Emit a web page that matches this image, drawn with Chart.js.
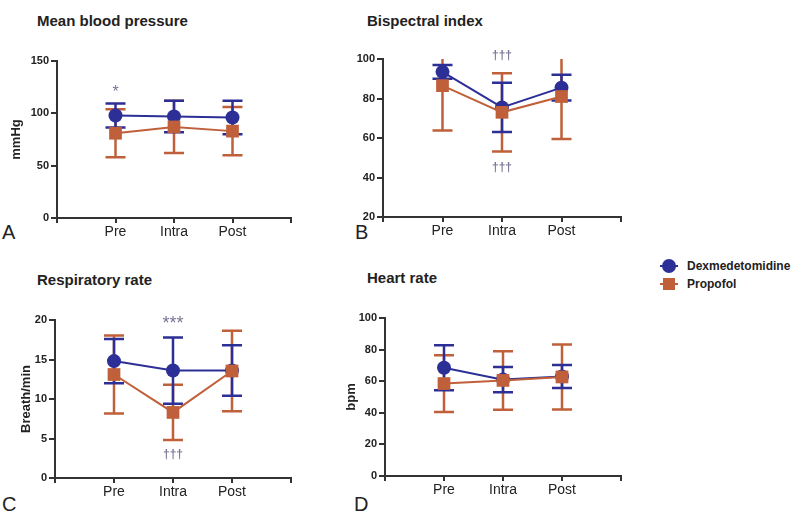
<!DOCTYPE html>
<html>
<head>
<meta charset="utf-8">
<script src="https://cdn.jsdelivr.net/npm/chart.js@4"></script>
<style>
  body { margin: 0; background: #fff; width: 800px; height: 512px; position: relative; overflow: hidden;
         font-family: "Liberation Sans", Arial, sans-serif; }
  canvas { position: absolute; }
  .ttl { position: absolute; font-weight: bold; font-size: 15px; line-height: 15px; color: #222; white-space: nowrap; }
  .let { position: absolute; font-size: 20px; line-height: 20px; color: #222; }
  .leg { position: absolute; font-weight: bold; font-size: 12px; line-height: 14px; color: #222; white-space: nowrap; }
  .sym { position: absolute; }
</style>
</head>
<body>
<div class="ttl" style="left:37px;top:13px">Mean blood pressure</div>
<div class="ttl" style="left:367px;top:13px">Bispectral index</div>
<div class="ttl" style="left:37px;top:272px">Respiratory rate</div>
<div class="ttl" style="left:367px;top:270px">Heart rate</div>
<div class="let" style="left:2px;top:222px">A</div>
<div class="let" style="left:355px;top:222px">B</div>
<div class="let" style="left:2px;top:494px">C</div>
<div class="let" style="left:354px;top:494px">D</div>

<div class="sym" style="left:660px;top:265px;width:18px;height:2px;background:#2c2f96"></div>
<div class="sym" style="left:662px;top:259px;width:14px;height:14px;border-radius:50%;background:#2c2f96"></div>
<div class="leg" style="left:687px;top:259px">Dexmedetomidine</div>
<div class="sym" style="left:660px;top:283px;width:18px;height:2px;background:#c0603a"></div>
<div class="sym" style="left:663px;top:278px;width:12px;height:12px;background:#c0603a"></div>
<div class="leg" style="left:687px;top:277px">Propofol</div>

<canvas id="cA" width="300" height="215" style="left:0px;top:40px"></canvas>
<canvas id="cB" width="310" height="215" style="left:320px;top:40px"></canvas>
<canvas id="cC" width="300" height="222" style="left:0px;top:290px"></canvas>
<canvas id="cD" width="310" height="222" style="left:320px;top:290px"></canvas>

<script>
const cats = ['Pre', 'Intra', 'Post'];

// mean blood pressure (mmHg), mean and SD
const mbpDex = [98, 97, 96];
const mbpDexSd = [11.5, 15, 16];
const mbpPro = [81, 87, 83];
const mbpProSd = [23, 25, 23];

// bispectral index
const bisDex = [93.5, 75.5, 85.5];
const bisDexSd = [3.5, 12.5, 6.5];
const bisPro = [86.5, 73, 81];
const bisProSd = [22.7, 19.8, 21.5];

// respiratory rate (breath/min)
const rrDex = [14.8, 13.6, 13.6];
const rrDexSd = [2.8, 4.2, 3.2];
const rrPro = [13.1, 8.3, 13.55];
const rrProSd = [4.95, 3.5, 5.1];

// heart rate (bpm)
const hrDex = [68.5, 61, 63];
const hrDexSd = [14.2, 8, 7.3];
const hrPro = [58.5, 60.5, 62.7];
const hrProSd = [18, 18.5, 20.6];

const blue = '#2c2f96';
const orange = '#c0603a';
const markColor = '#7b7394';
const axisColor = '#333';

// draws mean +/- SD whiskers, clipped at the axis range
const errorBars = {
  id: 'errorBars',
  beforeDatasetsDraw(chart) {
    const {ctx, scales: {x, y}} = chart;
    const ds = chart.data.datasets;
    for (let d = ds.length - 1; d >= 0; d--) {
      const set = ds[d];
      ctx.save();
      ctx.strokeStyle = set.borderColor;
      ctx.lineWidth = 2.5;
      set.data.forEach((p, i) => {
        const sd = set.errors[i];
        let hi = p.y + sd, lo = p.y - sd;
        const capHi = hi <= y.max, capLo = lo >= y.min;
        hi = Math.min(hi, y.max);
        lo = Math.max(lo, y.min);
        const px = x.getPixelForValue(p.x);
        const yh = y.getPixelForValue(hi), yl = y.getPixelForValue(lo);
        ctx.beginPath();
        ctx.moveTo(px, yh);
        ctx.lineTo(px, yl);
        if (capHi) { ctx.moveTo(px - 10, yh); ctx.lineTo(px + 10, yh); }
        if (capLo) { ctx.moveTo(px - 10, yl); ctx.lineTo(px + 10, yl); }
        ctx.stroke();
      });
      ctx.restore();
    }
  }
};

// significance marks (*, †††) placed in data coordinates
const marks = {
  id: 'marks',
  afterDatasetsDraw(chart, args, opts) {
    const {ctx, scales: {x, y}} = chart;
    (opts.items || []).forEach(m => {
      ctx.save();
      ctx.fillStyle = markColor;
      ctx.font = m.font;
      ctx.textAlign = 'center';
      ctx.textBaseline = 'middle';
      ctx.fillText(m.text, x.getPixelForValue(m.x), y.getPixelForValue(m.y));
      ctx.restore();
    });
  }
};

function toPts(arr) {
  return arr.map((v, i) => ({x: i + 1, y: v}));
}

function makePanel(cfg) {
  const box = cfg.box, area = cfg.area;
  new Chart(document.getElementById(cfg.id), {
    type: 'line',
    data: {
      datasets: [
        {
          label: 'Dexmedetomidine',
          data: toPts(cfg.dex),
          errors: cfg.dexSd,
          borderColor: blue,
          backgroundColor: blue,
          borderWidth: 2,
          pointStyle: 'circle',
          pointRadius: 7,
          pointBorderWidth: 0,
          order: 1
        },
        {
          label: 'Propofol',
          data: toPts(cfg.pro),
          errors: cfg.proSd,
          borderColor: orange,
          backgroundColor: orange,
          borderWidth: 2,
          pointStyle: 'rect',
          pointRadius: 9,
          pointBorderWidth: 0,
          order: 0
        }
      ]
    },
    options: {
      responsive: false,
      animation: false,
      layout: {
        padding: {left: 0, top: area.t - box.y, right: box.x + box.w - area.r, bottom: 0}
      },
      plugins: {
        legend: {display: false},
        tooltip: {enabled: false},
        marks: {items: cfg.marks}
      },
      scales: {
        x: {
          type: 'linear',
          min: 0,
          max: 4,
          afterFit: s => { s.height = box.y + box.h - area.b; },
          afterBuildTicks: s => { s.ticks = [0, 1, 2, 3, 4].map(v => ({value: v})); },
          grid: {display: true, drawOnChartArea: false, drawTicks: true, tickLength: 5, color: axisColor, lineWidth: 2},
          border: {display: true, color: axisColor, width: 2},
          ticks: {
            callback: v => cats[v - 1] || '',
            color: '#222',
            padding: 1,
            maxRotation: 0,
            font: {family: '"Liberation Sans", Arial, sans-serif', size: 14}
          }
        },
        y: {
          min: cfg.yMin,
          max: cfg.yMax,
          afterFit: s => { s.width = area.l - box.x; },
          grid: {display: true, drawOnChartArea: false, drawTicks: true, tickLength: 6, color: axisColor, lineWidth: 2},
          border: {display: true, color: axisColor, width: 2},
          ticks: {
            stepSize: cfg.yStep,
            color: '#222',
            padding: 2,
            font: {family: '"Liberation Sans", Arial, sans-serif', size: 11, weight: 'bold'}
          },
          title: {
            display: !!cfg.yTitle,
            text: cfg.yTitle,
            color: '#222',
            padding: {top: cfg.titlePad, bottom: 0},
            font: {family: '"Liberation Sans", Arial, sans-serif', size: 13, weight: 'bold'}
          }
        }
      }
    },
    plugins: [errorBars, marks]
  });
}

makePanel({
  id: 'cA', box: {x: 0, y: 40, w: 300, h: 215}, area: {l: 57, t: 61, r: 294, b: 218},
  yMin: 0, yMax: 150, yStep: 50, yTitle: 'mmHg', titlePad: 9,
  dex: mbpDex, dexSd: mbpDexSd, pro: mbpPro, proSd: mbpProSd,
  marks: [{x: 1, y: 120, text: '*', font: '16px "Liberation Sans", Arial'}]
});

makePanel({
  id: 'cB', box: {x: 320, y: 40, w: 310, h: 215}, area: {l: 383, t: 59, r: 623, b: 217},
  yMin: 20, yMax: 100, yStep: 20, yTitle: '', titlePad: 0,
  dex: bisDex, dexSd: bisDexSd, pro: bisPro, proSd: bisProSd,
  marks: [
    {x: 2, y: 101.5, text: '†††', font: 'bold 12px "Liberation Sans", Arial'},
    {x: 2, y: 45, text: '†††', font: 'bold 12px "Liberation Sans", Arial'}
  ]
});

makePanel({
  id: 'cC', box: {x: 0, y: 290, w: 300, h: 222}, area: {l: 55, t: 320, r: 295, b: 478},
  yMin: 0, yMax: 20, yStep: 5, yTitle: 'Breath/min', titlePad: 19,
  dex: rrDex, dexSd: rrDexSd, pro: rrPro, proSd: rrProSd,
  marks: [
    {x: 2, y: 19.5, text: '***', font: '18px "Liberation Sans", Arial'},
    {x: 2, y: 2.9, text: '†††', font: 'bold 12px "Liberation Sans", Arial'}
  ]
});

makePanel({
  id: 'cD', box: {x: 320, y: 290, w: 310, h: 222}, area: {l: 385, t: 318, r: 625, b: 476},
  yMin: 0, yMax: 100, yStep: 20, yTitle: 'bpm', titlePad: 24,
  dex: hrDex, dexSd: hrDexSd, pro: hrPro, proSd: hrProSd,
  marks: []
});
</script>
</body>
</html>
